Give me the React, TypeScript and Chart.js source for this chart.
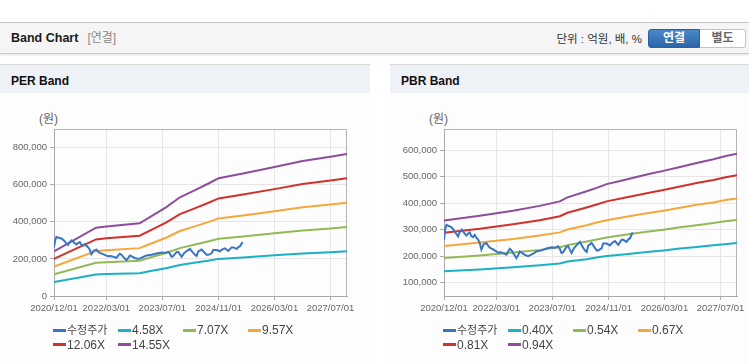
import React, { useEffect, useRef } from 'react';
import { Chart, registerables } from 'chart.js';

Chart.register(...registerables);

const FONT = "'Liberation Sans', 'Noto Sans CJK KR', Arial, sans-serif";

// ---- axis ----
const xTickLabels = ['2020/12/01', '2022/03/01', '2023/07/01', '2024/11/01', '2026/03/01', '2027/07/01'];
const xMinDate = '2020/12/01';
const xMaxDate = '2027/11/22';

const perYTicks = [0, 200000, 400000, 600000, 800000];
const perYMin = 0;
const perYMax = 900000;
const pbrYTicks = [100000, 200000, 300000, 400000, 500000, 600000];
const pbrYMin = 50000;
const pbrYMax = 680000;

// ---- series labels / colours ----
const perLabels = ['수정주가', '4.58X', '7.07X', '9.57X', '12.06X', '14.55X'];
const pbrLabels = ['수정주가', '0.40X', '0.54X', '0.67X', '0.81X', '0.94X'];
const seriesColors = ['#3a75c4', '#1cb0c4', '#93b956', '#f5a73b', '#d0312b', '#8d4d99'];

// ---- adjusted price (수정주가) ----
const priceDates = [
  '2020-12-01', '2020-12-11', '2020-12-22', '2021-01-11', '2021-02-03', '2021-02-23', '2021-03-17', '2021-04-02',
  '2021-04-16', '2021-05-04', '2021-05-30', '2021-06-14', '2021-06-28', '2021-07-13', '2021-07-27', '2021-08-10',
  '2021-08-25', '2021-09-09', '2021-09-25', '2021-10-08', '2021-10-22', '2021-11-11', '2021-12-05', '2021-12-19',
  '2022-01-03', '2022-02-01', '2022-02-15', '2022-03-16', '2022-04-09', '2022-04-29', '2022-05-28', '2022-06-11',
  '2022-06-26', '2022-07-11', '2022-07-24', '2022-08-23', '2022-09-08', '2022-09-21', '2022-10-13', '2022-11-03',
  '2022-12-02', '2022-12-17', '2023-01-15', '2023-02-13', '2023-03-29', '2023-05-11', '2023-06-24', '2023-07-23',
  '2023-08-20', '2023-09-04', '2023-09-19', '2023-10-03', '2023-11-01', '2023-11-15', '2023-11-30', '2023-12-15',
  '2024-01-04', '2024-01-28', '2024-02-26', '2024-03-14', '2024-04-09', '2024-04-24', '2024-05-08', '2024-06-06',
  '2024-06-20', '2024-07-20', '2024-08-03', '2024-09-01', '2024-09-15', '2024-10-15', '2024-11-12', '2024-11-30',
  '2024-12-26', '2025-01-24', '2025-02-22', '2025-03-08', '2025-04-07', '2025-04-21', '2025-05-06', '2025-05-20',
  '2025-05-29',
];
const priceValues = [
  262000, 300000, 318000, 314000, 310000, 300000, 285000, 275000,
  290000, 300000, 285000, 278000, 285000, 290000, 276000, 272000,
  280000, 270000, 262000, 250000, 225000, 245000, 250000, 240000,
  232000, 226000, 222000, 214000, 215000, 212000, 206000, 218000,
  228000, 222000, 212000, 193000, 205000, 218000, 212000, 205000,
  200000, 203000, 210000, 218000, 222000, 229000, 234000, 232000,
  238000, 228000, 212000, 215000, 236000, 238000, 225000, 212000,
  230000, 242000, 254000, 240000, 222000, 216000, 240000, 250000,
  241000, 222000, 222000, 230000, 248000, 248000, 241000, 250000,
  257000, 243000, 262000, 262000, 254000, 264000, 268000, 282000,
  290000,
];

// ---- PER band ----
const perBandDates = [
  '2020-12-01', '2021-12-01', '2022-03-01', '2022-12-15', '2023-04-01', '2023-08-01', '2023-12-01', '2024-04-01',
  '2024-08-01', '2024-11-01', '2025-06-01', '2026-03-01', '2026-11-01', '2027-07-01', '2027-11-22',
];
const per458 = [76000, 116000, 118000, 123000, 136000, 150000, 167000, 179000, 190000, 200000, 208000, 219000, 229000, 236000, 241000];
const per707 = [117000, 179000, 182000, 190000, 210000, 232000, 258000, 276000, 294000, 308000, 321000, 338000, 353000, 364000, 372000];
const per957 = [158000, 242000, 247000, 258000, 284000, 314000, 350000, 374000, 398000, 418000, 434000, 457000, 478000, 493000, 503000];
const per1206 = [200000, 305000, 311000, 325000, 358000, 396000, 441000, 471000, 501000, 526000, 547000, 576000, 603000, 622000, 634000];
const per1455 = [241000, 368000, 375000, 392000, 432000, 478000, 532000, 568000, 605000, 635000, 660000, 695000, 727000, 750000, 765000];

// ---- PBR band ----
const pbrBandDates = [
  '2020-12-01', '2021-10-08', '2022-07-24', '2023-03-13', '2023-09-04', '2023-11-09', '2024-04-24', '2024-07-20',
  '2024-10-15', '2025-03-08', '2025-09-28', '2026-02-20', '2026-07-15', '2026-12-07', '2027-05-01', '2027-08-26',
  '2027-11-22',
];
const pbr040 = [143000, 150000, 158000, 166000, 173000, 180000, 189000, 195000, 201000, 207000, 216000, 222000, 229000, 235000, 241000, 246000, 250000];
const pbr054 = [193000, 203000, 214000, 224000, 234000, 242000, 256000, 263000, 271000, 280000, 292000, 300000, 309000, 317000, 325000, 333000, 337000];
const pbr067 = [239000, 252000, 265000, 278000, 290000, 301000, 317000, 327000, 336000, 347000, 362000, 372000, 383000, 394000, 403000, 413000, 418000];
const pbr081 = [289000, 304000, 321000, 336000, 351000, 364000, 384000, 395000, 407000, 420000, 438000, 450000, 463000, 476000, 488000, 499000, 506000];
const pbr094 = [335000, 353000, 372000, 390000, 407000, 422000, 445000, 458000, 472000, 487000, 508000, 522000, 537000, 552000, 566000, 579000, 587000];

function toTs(s: string): number {
  const [y, m, d] = s.split(/[-/]/).map(Number);
  return Date.UTC(y, m - 1, d);
}

function pts(dates: string[], vals: number[]) {
  return dates.map((d, i) => ({ x: toTs(d), y: vals[i] }));
}

const plotBorder = {
  id: 'plotBorder',
  beforeDatasetsDraw(chart: any) {
    const { ctx, chartArea } = chart;
    const l = Math.round(chartArea.left) + 0.5;
    const t = Math.round(chartArea.top) + 0.5;
    const r = Math.round(chartArea.right) - 0.5;
    const b = Math.round(chartArea.bottom) + 0.5;
    ctx.save();
    ctx.strokeStyle = '#b3b3b3';
    ctx.lineWidth = 1;
    ctx.beginPath();
    ctx.moveTo(l, t);
    ctx.lineTo(r, t);
    ctx.lineTo(r, b);
    ctx.stroke();
    ctx.restore();
  },
};

type BandProps = {
  width: number;
  height: number;
  padRight: number;
  labels: string[];
  bandDates: string[];
  bands: number[][];
  yMin: number;
  yMax: number;
  yTicks: number[];
};

function BandCanvas(props: BandProps) {
  const ref = useRef<HTMLCanvasElement | null>(null);
  useEffect(() => {
    if (!ref.current) return;
    const xTicks = xTickLabels.map(toTs);
    const datasets: any[] = [
      {
        label: props.labels[0],
        data: pts(priceDates, priceValues),
        borderColor: seriesColors[0],
        backgroundColor: seriesColors[0],
        borderWidth: 2,
      },
      ...props.bands.map((b, i) => ({
        label: props.labels[i + 1],
        data: pts(props.bandDates, b),
        borderColor: seriesColors[i + 1],
        backgroundColor: seriesColors[i + 1],
        borderWidth: 2,
      })),
    ];
    const tickFont = { family: FONT, size: 9.5 };
    const chart = new Chart(ref.current, {
      type: 'line',
      data: { datasets },
      plugins: [plotBorder],
      options: {
        animation: false,
        responsive: false,
        maintainAspectRatio: false,
        parsing: false as any,
        layout: { padding: { left: 0, right: props.padRight, top: 35, bottom: 0 } },
        plugins: { legend: { display: false }, tooltip: { enabled: false } },
        elements: { point: { radius: 0 }, line: { tension: 0 } },
        scales: {
          x: {
            type: 'linear',
            min: toTs(xMinDate),
            max: toTs(xMaxDate),
            afterBuildTicks: (s: any) => {
              s.ticks = xTicks.map((v) => ({ value: v }));
            },
            afterFit: (s: any) => {
              s.height = 28;
            },
            ticks: {
              autoSkip: false,
              maxRotation: 0,
              padding: 3,
              color: '#666',
              font: tickFont,
              callback: (v: any) => {
                const i = xTicks.indexOf(Number(v));
                return i >= 0 ? xTickLabels[i] : '';
              },
            },
            grid: { color: '#e6e6e6', tickColor: '#aaa', tickLength: 4 },
            border: { color: '#aaa' },
          },
          y: {
            type: 'linear',
            min: props.yMin,
            max: props.yMax,
            afterBuildTicks: (s: any) => {
              s.ticks = props.yTicks.map((v) => ({ value: v }));
            },
            afterFit: (s: any) => {
              s.width = 54;
            },
            ticks: {
              padding: 3,
              color: '#666',
              font: tickFont,
              callback: (v: any) => Number(v).toLocaleString('en-US'),
            },
            grid: { color: '#e6e6e6', tickColor: '#aaa', tickLength: 4 },
            border: { color: '#aaa' },
          },
        },
      } as any,
    });
    return () => chart.destroy();
  }, []);
  return (
    <canvas
      ref={ref}
      width={props.width}
      height={props.height}
      style={{ position: 'absolute', left: 0, top: 29, width: props.width, height: props.height }}
    />
  );
}

function Legend({ labels }: { labels: string[] }) {
  return (
    <>
      {labels.map((lab, i) => {
        const row = Math.floor(i / 4);
        const col = i % 4;
        const isHangul = /[가-힣]/.test(lab);
        return (
          <div
            key={lab}
            style={{
              position: 'absolute',
              left: 53 + col * 65,
              top: 258 + row * 14.7,
              height: 14,
              display: 'flex',
              alignItems: 'center',
              whiteSpace: 'nowrap',
            }}
          >
            <div style={{ width: 13, height: 3, background: seriesColors[i] }} />
            <span
              style={{
                marginLeft: 1,
                fontSize: isHangul ? 11 : 12,
                color: '#444',
                lineHeight: '14px',
              }}
            >
              {lab}
            </span>
          </div>
        );
      })}
    </>
  );
}

function Panel(props: {
  left: number;
  width: number;
  title: string;
  labels: string[];
  bandDates: string[];
  bands: number[][];
  yMin: number;
  yMax: number;
  yTicks: number[];
  padRight: number;
}) {
  return (
    <div
      style={{
        position: 'absolute',
        left: props.left,
        top: 64,
        width: props.width,
        height: 299,
        borderTop: '1px solid #d9d9d9',
        borderBottom: '1px solid #cfcfcf',
        background: '#fdfdfd',
      }}
    >
      <div style={{ position: 'absolute', left: 0, top: 0, width: props.width, height: 28, background: '#eef1f5' }} />
      <div
        style={{
          position: 'absolute',
          left: 11,
          top: 9,
          fontSize: 12,
          fontWeight: 'bold',
          color: '#111',
          lineHeight: '14px',
          whiteSpace: 'nowrap',
        }}
      >
        {props.title}
      </div>
      <div
        style={{
          position: 'absolute',
          left: 39,
          top: 47,
          fontSize: 12,
          color: '#666',
          lineHeight: '14px',
          whiteSpace: 'nowrap',
        }}
      >
        (원)
      </div>
      <BandCanvas
        width={props.width}
        height={230}
        padRight={props.padRight}
        labels={props.labels}
        bandDates={props.bandDates}
        bands={props.bands}
        yMin={props.yMin}
        yMax={props.yMax}
        yTicks={props.yTicks}
      />
      <Legend labels={props.labels} />
    </div>
  );
}

export default function App() {
  return (
    <div
      style={{
        position: 'absolute',
        left: 0,
        top: 0,
        width: 749,
        height: 364,
        overflow: 'hidden',
        background: '#fff',
        fontFamily: FONT,
      }}
    >
      <div
        style={{
          position: 'absolute',
          left: 0,
          top: 22,
          width: 749,
          height: 30,
          background: '#f5f5f5',
          borderTop: '1px solid #c6c6c6',
          borderBottom: '1px solid #cdcdcd',
          boxShadow: '0 1px 2px rgba(0,0,0,0.12)',
        }}
      >
        <div
          style={{
            position: 'absolute',
            left: 11,
            top: 8,
            fontSize: 12.5,
            fontWeight: 'bold',
            color: '#1a1a1a',
            lineHeight: '14px',
            whiteSpace: 'nowrap',
          }}
        >
          Band Chart
          <span style={{ fontWeight: 'normal', color: '#8a8a8a', fontSize: 12, marginLeft: 9 }}>[연결]</span>
        </div>
        <div
          style={{
            position: 'absolute',
            right: 749 - 642,
            top: 9,
            fontSize: 11.5,
            color: '#333',
            lineHeight: '14px',
            whiteSpace: 'nowrap',
          }}
        >
          단위 : 억원, 배, %
        </div>
        <div
          style={{
            position: 'absolute',
            left: 648,
            top: 6,
            width: 50,
            height: 17,
            lineHeight: '17px',
            textAlign: 'center',
            fontSize: 12,
            fontWeight: 'bold',
            color: '#fff',
            background: 'linear-gradient(#4b87c9, #2c66aa)',
            border: '1px solid #2b5f9e',
            borderRadius: '3px 0 0 3px',
          }}
        >
          연결
        </div>
        <div
          style={{
            position: 'absolute',
            left: 700,
            top: 6,
            width: 45,
            height: 17,
            lineHeight: '17px',
            textAlign: 'center',
            fontSize: 12,
            fontWeight: 'bold',
            color: '#666',
            background: '#fff',
            border: '1px solid #c3c3c3',
            borderLeft: 'none',
            borderRadius: '0 3px 3px 0',
          }}
        >
          별도
        </div>
      </div>
      <Panel
        left={0}
        width={370}
        title="PER Band"
        labels={perLabels}
        bandDates={perBandDates}
        bands={[per458, per707, per957, per1206, per1455]}
        yMin={perYMin}
        yMax={perYMax}
        yTicks={perYTicks}
        padRight={23}
      />
      <Panel
        left={390}
        width={359}
        title="PBR Band"
        labels={pbrLabels}
        bandDates={pbrBandDates}
        bands={[pbr040, pbr054, pbr067, pbr081, pbr094]}
        yMin={pbrYMin}
        yMax={pbrYMax}
        yTicks={pbrYTicks}
        padRight={12}
      />
    </div>
  );
}
